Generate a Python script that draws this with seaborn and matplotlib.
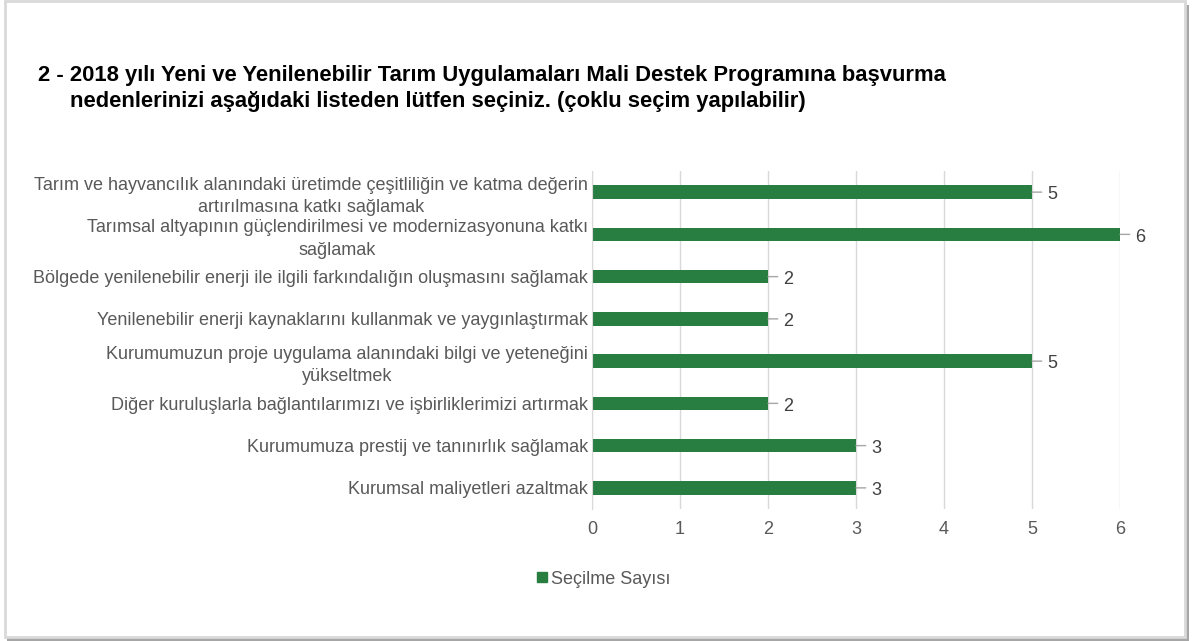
import matplotlib
matplotlib.use("Agg")
import matplotlib.pyplot as plt
import seaborn as sns
import pandas as pd
from matplotlib.patches import Rectangle
from matplotlib.lines import Line2D

# veriler
reasons = [
    "Tarım ve hayvancılık alanındaki üretimde çeşitliliğin ve katma değerin\nartırılmasına katkı sağlamak",
    "Tarımsal altyapının güçlendirilmesi ve modernizasyonuna katkı\nsağlamak",
    "Bölgede yenilenebilir enerji ile ilgili farkındalığın oluşmasını sağlamak",
    "Yenilenebilir enerji kaynaklarını kullanmak ve yaygınlaştırmak",
    "Kurumumuzun proje uygulama alanındaki bilgi ve yeteneğini\nyükseltmek",
    "Diğer kuruluşlarla bağlantılarımızı ve işbirliklerimizi artırmak",
    "Kurumumuza prestij ve tanınırlık sağlamak",
    "Kurumsal maliyetleri azaltmak",
]
counts = [5, 6, 2, 2, 5, 2, 3, 3]
xticks = [0, 1, 2, 3, 4, 5, 6]
series_name = "Seçilme Sayısı"
title_1 = "2 - 2018 yılı Yeni ve Yenilenebilir Tarım Uygulamaları Mali Destek Programına başvurma"
title_2 = "nedenlerinizi aşağıdaki listeden lütfen seçiniz. (çoklu seçim yapılabilir)"

bar_color = "#277E40"
text_gray = "#595959"
fs = 13

df = pd.DataFrame({"neden": reasons, "sayi": counts})

plt.rcParams["font.family"] = ["Liberation Sans", "DejaVu Sans"]

fig = plt.figure(figsize=(11.92, 6.41), dpi=100)
W, H = 1192, 641

# çerçeve ve gölge
fig.add_artist(Rectangle((7 / W, 0 / H), 1182 / W, 636 / H, transform=fig.transFigure,
                         facecolor="#A6A6A6", edgecolor="none", zorder=0))
fig.add_artist(Rectangle((5 / W, 4 / H), 1180 / W, 636 / H, transform=fig.transFigure,
                         facecolor="white", edgecolor="#D9D9D9", linewidth=2, zorder=0.5))

ax = fig.add_axes([592 / W, (H - 509) / H, 528 / W, 338 / H])
ax.set_facecolor("none")
ax.set_zorder(2)

sns.barplot(data=df, x="sayi", y="neden", orient="h", color=bar_color,
            width=0.32, ax=ax, zorder=3, saturation=1)

ax.set_xlim(0, 6)
ax.set_ylim(7.5, -0.5)
ax.set_xticks(xticks)
ax.set_xticklabels([str(t) for t in xticks], fontsize=fs, color=text_gray)
ax.tick_params(axis="x", length=0, pad=9)
ax.tick_params(axis="y", length=0, pad=3)
for lab in ax.get_yticklabels():
    lab.set_fontsize(fs)
    lab.set_color(text_gray)
    lab.set_multialignment("center")
    lab.set_linespacing(1.4)
ax.set_xlabel("")
ax.set_ylabel("")
ax.grid(axis="x", color="#D9D9D9", linewidth=1, zorder=0)
ax.grid(axis="y", visible=False)
for s in ["top", "right", "bottom"]:
    ax.spines[s].set_visible(False)
ax.spines["left"].set_color("#D9D9D9")
ax.spines["left"].set_zorder(4)

# veri etiketleri ve kılavuz çizgileri
for i, v in enumerate(counts):
    ax.annotate("", xy=(v, i), xytext=(7, 0), textcoords="offset points",
                arrowprops=dict(arrowstyle="-", color="#A6A6A6", lw=1, shrinkA=0, shrinkB=0))
    ax.annotate(str(v), xy=(v, i), xytext=(11, -2), textcoords="offset points",
                ha="left", va="center", fontsize=fs, color="#404040")

fig.text(38 / W, 1 - 75 / H, title_1, fontsize=15.8, fontweight="bold", color="black",
         ha="left", va="center")
fig.text(70 / W, 1 - 101 / H, title_2, fontsize=15.8, fontweight="bold", color="black",
         ha="left", va="center")

handle = Line2D([], [], marker="s", linestyle="none", markersize=7,
                markerfacecolor=bar_color, markeredgecolor=bar_color)
fig.legend([handle], [series_name], loc="center", bbox_to_anchor=(603 / W, 1 - 579 / H),
           frameon=False, fontsize=fs, labelcolor=text_gray, handletextpad=0.1,
           handlelength=0.8)

fig.savefig("out.png", dpi=100)
